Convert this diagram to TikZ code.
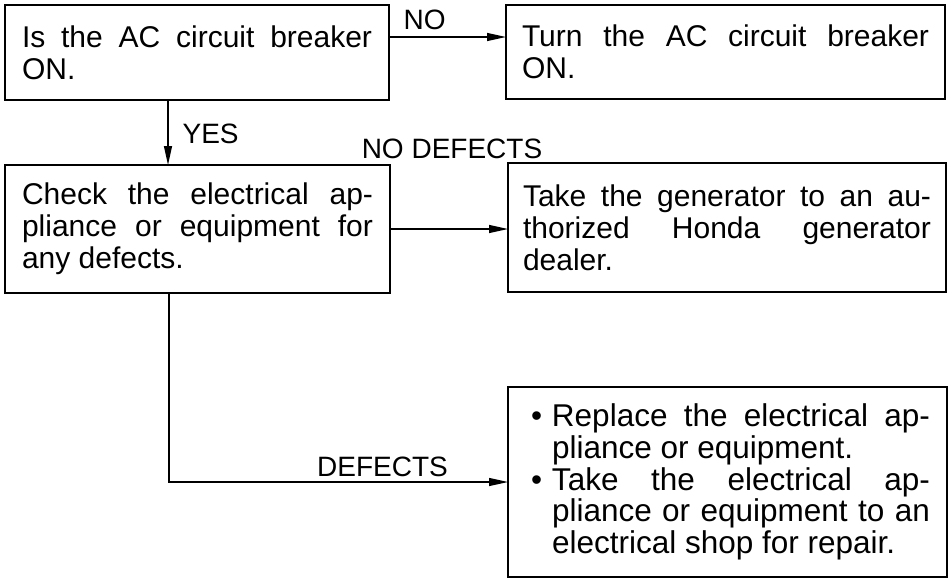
\documentclass[tikz,border=0pt]{standalone}
\usepackage{fontspec}
\setmainfont{Liberation Sans}
\usetikzlibrary{arrows.meta}
\newcommand{\boxfont}{\fontsize{30}{32}\selectfont\tolerance=10000\hyphenpenalty=10000}
\newcommand{\listfont}{\fontsize{31.5}{31.7}\selectfont\tolerance=10000\hyphenpenalty=10000}
\newcommand{\lblfont}{\fontsize{28}{30}\selectfont}
\newcommand{\bulletitem}{\noindent\hangindent=27pt\hangafter=1\makebox[27pt][l]{\hspace{6pt}\textbullet}}
\tikzset{
  box/.style={draw, line width=1.4pt, anchor=north west, inner xsep=17pt, inner ysep=0pt,
              outer sep=0pt, align=justify, font=\boxfont},
  arr/.style={line width=1.2pt, -{Triangle[length=19pt,width=8pt]}},
  lbl/.style={font=\lblfont, inner sep=0pt, anchor=base}
}

\begin{document}
\begin{tikzpicture}[x=1pt, y=-1pt]
  \useasboundingbox (0,0) rectangle (952,579);
  \node[box, text width=350pt, minimum height=95pt] (breaker) at (5,5)
    {Is the AC circuit breaker\linebreak ON.};
  \node[box, inner xsep=16pt, text width=407pt, minimum height=94pt] (turnon) at (506,5)
    {Turn the AC circuit breaker\linebreak ON.};
  \node[box, text width=351pt, minimum height=128pt] (check) at (5,165)
    {Check the electrical ap-\linebreak pliance or equipment for\linebreak any defects.};
  \node[box, inner xsep=15pt, text width=408pt, minimum height=129pt] (dealer) at (508,163)
    {Take the generator to an au-\linebreak thorized Honda generator\linebreak dealer.};
  \node[box, font=\listfont, text width=405pt, minimum height=190pt] (repair) at (508,387)
    {\bulletitem Replace the electrical ap-\linebreak pliance or equipment.\par
     \bulletitem Take the electrical ap-\linebreak pliance or equipment to an\linebreak electrical shop for repair.\par};

  \draw[arr] ([yshift=-32pt]breaker.north east) -- ([yshift=-32pt]turnon.north west)
    node[lbl, pos=0, anchor=base west, xshift=14pt, yshift=8pt] {NO};
  \draw[arr] ([xshift=163pt]breaker.south west) -- ([xshift=163pt]check.north west)
    node[lbl, midway, anchor=base west, xshift=14pt, yshift=-10.5pt] {YES};
  \draw[arr] (check.east) -- (check.east -| dealer.west)
    node[lbl, midway, xshift=3pt, yshift=71pt] {NO DEFECTS};
  \draw[arr] ([xshift=164pt]check.south west) |- (repair.west)
    node[lbl, pos=0.75, xshift=44pt, yshift=6pt] {DEFECTS};
\end{tikzpicture}
\end{document}
